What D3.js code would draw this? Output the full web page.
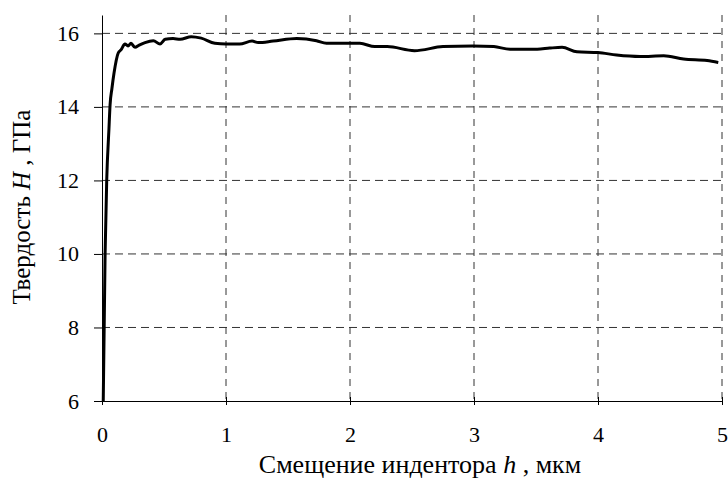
<!DOCTYPE html>
<html>
<head>
<meta charset="utf-8">
<script src="https://cdn.jsdelivr.net/npm/d3@7"></script>
<style>
  body { margin: 0; background: #fff; }
  text { font-family: "Liberation Serif", "Times New Roman", serif; fill: #000; }
</style>
</head>
<body>
<div id="chart"></div>
<script>

// displacement h, um
let hVals = [0.01, 0.025, 0.038, 0.056, 0.065, 0.08, 0.097, 0.13, 0.153, 0.185, 0.21, 0.234, 0.266, 0.30, 0.347, 0.414, 0.468, 0.51, 0.573, 0.63, 0.72, 0.80, 0.91, 1.0, 1.11, 1.21, 1.26, 1.38, 1.57, 1.73, 1.81, 1.97, 2.08, 2.20, 2.30, 2.52, 2.75, 2.99, 3.16, 3.29, 3.51, 3.61, 3.71, 3.83, 4.0, 4.15, 4.34, 4.53, 4.69, 4.88, 4.97];
// hardness H, GPa
let HVals = [6.0, 10.0, 12.0, 13.4, 14.05, 14.5, 14.92, 15.46, 15.55, 15.71, 15.66, 15.73, 15.62, 15.68, 15.75, 15.8, 15.71, 15.84, 15.86, 15.84, 15.91, 15.87, 15.73, 15.71, 15.71, 15.79, 15.75, 15.79, 15.86, 15.8, 15.73, 15.73, 15.73, 15.64, 15.64, 15.53, 15.64, 15.66, 15.64, 15.57, 15.57, 15.6, 15.62, 15.5, 15.48, 15.41, 15.37, 15.39, 15.3, 15.26, 15.21];

let xTicks = [0, 1, 2, 3, 4, 5];
let yTicks = [6, 8, 10, 12, 14, 16];

let W = 728, Ht = 484;
let pLeft = 102, pRight = 722, pTop = 15, pBottom = 401;
let serif = "'Liberation Serif', 'Times New Roman', serif";

let svg = d3.select("#chart").append("svg")
    .attr("width", W)
    .attr("height", Ht);

let x = d3.scaleLinear().domain([0, 5]).range([pLeft, pRight]);
let y = d3.scaleLinear().domain([6, 16.5]).range([pBottom, pTop]);

// grid
svg.append("g").selectAll("line")
    .data(xTicks.slice(1))
    .join("line")
    .attr("x1", d => x(d)).attr("x2", d => x(d))
    .attr("y1", pTop).attr("y2", pBottom)
    .attr("stroke", "#333")
    .attr("stroke-dasharray", "7,6");

svg.append("g").selectAll("line")
    .data(yTicks.slice(1))
    .join("line")
    .attr("x1", pLeft).attr("x2", pRight)
    .attr("y1", d => y(d)).attr("y2", d => y(d))
    .attr("stroke", "#333")
    .attr("stroke-dasharray", "8,5");

// axes
let xAxis = svg.append("g")
    .attr("transform", `translate(0,${pBottom})`)
    .call(d3.axisBottom(x).tickValues(xTicks).tickFormat(d3.format("d"))
      .tickSizeInner(4).tickSizeOuter(0).tickPadding(21));
xAxis.selectAll(".tick line").attr("y1", -4).attr("y2", 4);

let yAxis = svg.append("g")
    .attr("transform", `translate(${pLeft},0)`)
    .call(d3.axisLeft(y).tickValues(yTicks).tickFormat(d3.format("d"))
      .tickSizeInner(8).tickSizeOuter(0).tickPadding(15));

svg.selectAll("g").attr("font-family", serif).attr("font-size", 22);
svg.selectAll(".domain").attr("stroke", "#000");
svg.selectAll(".tick line").attr("stroke", "#000");

// curve
let pts = hVals.map((h, i) => [h, HVals[i]]);
svg.append("path")
    .datum(pts)
    .attr("fill", "none")
    .attr("stroke", "#000")
    .attr("stroke-width", 3)
    .attr("stroke-linejoin", "round")
    .attr("d", d3.line().x(d => x(d[0])).y(d => y(d[1])).curve(d3.curveMonotoneX));

// labels
let xl = svg.append("text")
    .attr("x", 420).attr("y", 473)
    .attr("text-anchor", "middle")
    .attr("font-family", serif)
    .style("font-size", "26px");
xl.append("tspan").text("Смещение индентора ");
xl.append("tspan").style("font-style", "italic").text("h");
xl.append("tspan").text(" , мкм");

let yl = svg.append("text")
    .attr("transform", "translate(30,207) rotate(-90)")
    .attr("text-anchor", "middle")
    .attr("font-family", serif)
    .style("font-size", "25px");
yl.append("tspan").text("Твердость ");
yl.append("tspan").style("font-style", "italic").text("H");
yl.append("tspan").text(" , ГПа");

</script>
</body>
</html>
